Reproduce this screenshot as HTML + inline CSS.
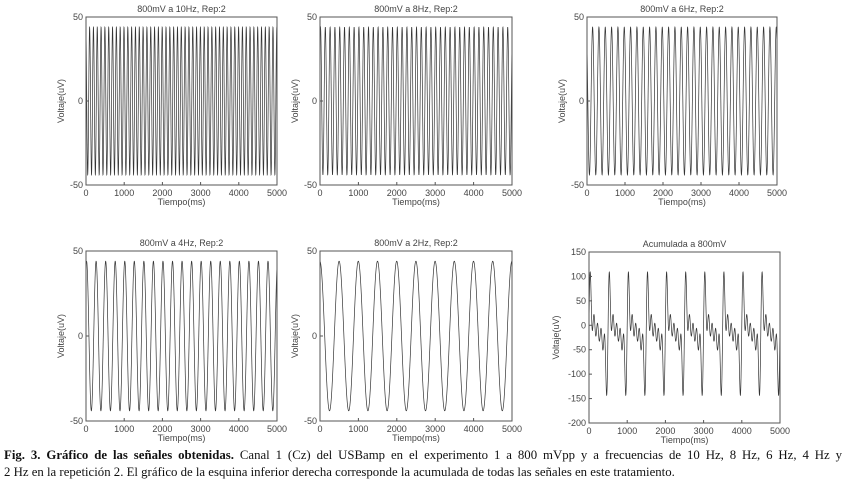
<!DOCTYPE html>
<html><head><meta charset="utf-8"><style>
body{margin:0;background:#fff;width:843px;height:487px;overflow:hidden}
svg text{font-family:"Liberation Sans",sans-serif;fill:#444}
.cap{position:absolute;left:4px;width:838px;font-family:"Liberation Serif",serif;font-size:12.8px;line-height:17px;color:#111;white-space:nowrap}
.l1{top:447px;text-align:justify;text-align-last:justify;white-space:normal}
.l2{top:464px}
</style></head><body>
<svg id="fig" width="843" height="487" style="position:absolute;left:0;top:0"></svg>
<div class="cap l1"><b>Fig. 3. Gráfico de las señales obtenidas.</b> Canal 1 (Cz) del USBamp en el experimento 1 a 800 mVpp y a frecuencias de 10 Hz, 8 Hz, 6 Hz, 4 Hz y</div>
<div class="cap l2">2 Hz en la repetición 2. El gráfico de la esquina inferior derecha corresponde la acumulada de todas las señales en este tratamiento.</div>
<script>
const titles=["800mV a 10Hz, Rep:2","800mV a 8Hz, Rep:2","800mV a 6Hz, Rep:2","800mV a 4Hz, Rep:2","800mV a 2Hz, Rep:2","Acumulada a 800mV"];
const freqs=[10,8,6,4,2];
const amps=[44,44,44,44,44];
const phases=[1.9,0.9,2.3,1.2,1.6];
const sumAmps=[30,30,32,34,36];
const sumPhases=[0.2,0.15,0.1,0.05,0];
const sumOffset=-15;
const xTicks=[0,1000,2000,3000,4000,5000];
const yTicksSingle=[-50,0,50];
const yTicksSum=[-200,-150,-100,-50,0,50,100,150];
const boxes=[[86,17,277,185],[320,17,512,185],[587,17,777,185],[86,251,277,421],[320,251,512,421],[589,252,780,423]];
const NS="http://www.w3.org/2000/svg";
const svg=document.getElementById('fig');
function mk(t,a,p){const e=document.createElementNS(NS,t);for(const k in a)e.setAttribute(k,a[k]);(p||svg).appendChild(e);return e;}
function sig(i,tms){const t=tms/1000;
 if(i<5)return amps[i]*Math.sin(2*Math.PI*freqs[i]*t+phases[i]);
 let s=sumOffset;for(let k=0;k<5;k++)s+=sumAmps[k]*Math.sin(2*Math.PI*freqs[k]*t+sumPhases[k]);return s;}
const defs=mk('defs',{});
boxes.forEach((b,i)=>{
 const [x0,y0,x1,y1]=b;const yt=i<5?yTicksSingle:yTicksSum;const ymin=yt[0],ymax=yt[yt.length-1];
 const X=v=>x0+(v-0)/5000*(x1-x0);const Y=v=>y1-(v-ymin)/(ymax-ymin)*(y1-y0);
 const cp=mk('clipPath',{id:'c'+i},defs);mk('rect',{x:x0,y:y0,width:x1-x0,height:y1-y0},cp);
 const g=mk('g',{});
 let d='';for(let t=0;t<=5000;t+=2){d+=(t?'L':'M')+X(t).toFixed(2)+','+Y(sig(i,t)).toFixed(2);}
 const ln=mk('path',{d:d,fill:'none',stroke:'#333','stroke-width':0.7,'clip-path':'url(#c'+i+')'},g);
 
 const fr=mk('rect',{x:x0,y:y0,width:x1-x0,height:y1-y0,fill:'none',stroke:'#555','stroke-width':1},g);
 
 xTicks.forEach(v=>{mk('line',{x1:X(v),x2:X(v),y1:y1,y2:y1-3,stroke:'#555'},g);
  const tx=mk('text',{x:X(v),y:y1+11,'font-size':9,'text-anchor':'middle'},g);tx.textContent=v;
  });
 yt.forEach(v=>{mk('line',{x1:x0,x2:x0+3,y1:Y(v),y2:Y(v),stroke:'#555'},g);
  const tx=mk('text',{x:x0-3,y:Y(v)+3,'font-size':9,'text-anchor':'end'},g);tx.textContent=v;
  });
 const tt=mk('text',{x:(x0+x1)/2,y:y0-5,'font-size':9,'text-anchor':'middle'},g);tt.textContent=titles[i];
 
 const xl=mk('text',{x:(x0+x1)/2,y:y1+20,'font-size':9,'text-anchor':'middle'},g);xl.textContent='Tiempo(ms)';
 
 const yx=x0-(i<5?22:30),ym=(y0+y1)/2;
 const yl=mk('text',{x:yx,y:ym,'font-size':9,'text-anchor':'middle',transform:`rotate(-90 ${yx} ${ym})`},g);yl.textContent='Voltaje(uV)';
 
});
</script>
</body></html>
